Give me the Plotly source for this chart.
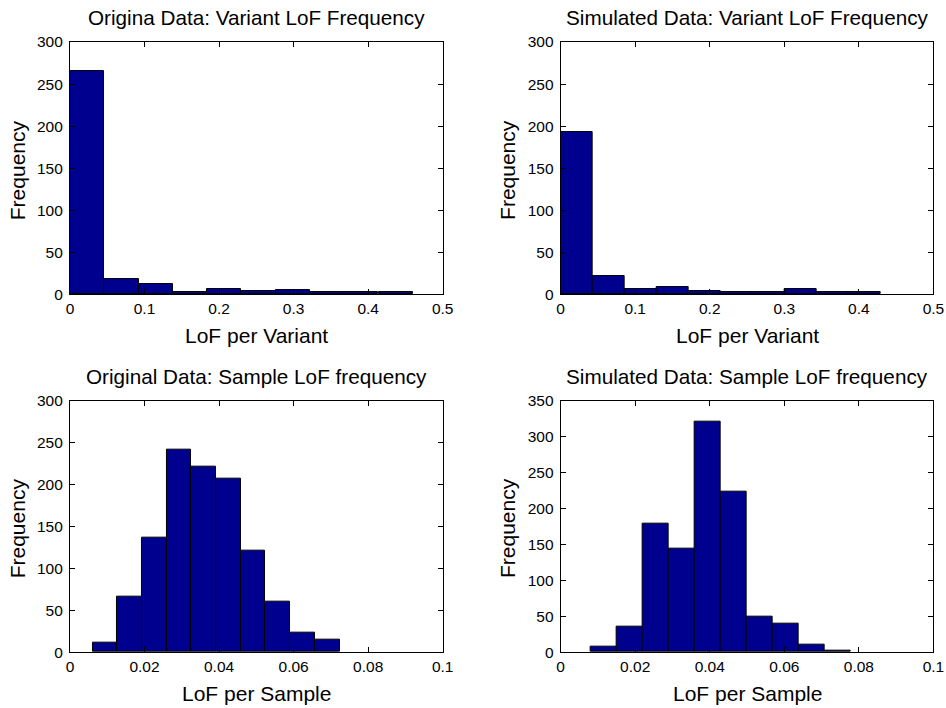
import plotly.graph_objects as go

# ---------------- data ----------------
orig_variant_bins = [0.0230, 0.0690, 0.1150, 0.1609, 0.2069, 0.2529, 0.2989, 0.3449, 0.3908, 0.4368]
orig_variant_counts = [265, 18, 12, 3, 6, 4, 5, 3, 3, 3]

sim_variant_bins = [0.0215, 0.0645, 0.1075, 0.1504, 0.1934, 0.2364, 0.2794, 0.3224, 0.3654, 0.4083]
sim_variant_counts = [193, 22, 7, 9, 4, 3, 3, 6, 3, 3]

orig_sample_bins = [0.00938, 0.01600, 0.02262, 0.02925, 0.03587, 0.04250, 0.04912, 0.05574, 0.06237, 0.06899]
orig_sample_counts = [11, 66, 137, 241, 221, 207, 121, 60, 23, 15]

sim_sample_bins = [0.01144, 0.01842, 0.02539, 0.03237, 0.03934, 0.04632, 0.05329, 0.06027, 0.06724, 0.07422]
sim_sample_counts = [7, 36, 179, 144, 321, 223, 50, 39, 11, 2]

titles = [
    "Origina Data: Variant LoF Frequency",
    "Simulated Data: Variant LoF Frequency",
    "Original Data: Sample LoF frequency",
    "Simulated Data: Sample LoF frequency",
]
xlabels = ["LoF per Variant", "LoF per Variant", "LoF per Sample", "LoF per Sample"]
ylabel = "Frequency"
x_ranges = [[0, 0.5], [0, 0.5], [0, 0.1], [0, 0.1]]
x_dticks = [0.1, 0.1, 0.02, 0.02]
y_ranges = [[0, 300], [0, 300], [0, 300], [0, 350]]

# ---------------- layout ----------------
W, H = 960, 728
# observed page->photo mapping: screen = OFF + SCALE * figure_px
OFF_X, SCALE_X = 4.0, 0.985
OFF_Y, SCALE_Y = 9.0, 0.975
BAR_COLOR = "#00008F"
FONT = "Liberation Sans, Arial, Helvetica, sans-serif"

# wanted axes boxes in photo pixels (left, right, top, bottom)
boxes = [
    (70, 443, 42, 294),
    (561, 934, 42, 294),
    (70, 443, 400, 651),
    (561, 934, 400, 651),
]


def fx(sx):
    return (sx - OFF_X) / SCALE_X


def fy(sy):
    return (sy - OFF_Y) / SCALE_Y


def px(v):
    return v / W


def py(v):
    return (H - v) / H


fig = go.Figure()
series = [
    (orig_variant_bins, orig_variant_counts),
    (sim_variant_bins, sim_variant_counts),
    (orig_sample_bins, orig_sample_counts),
    (sim_sample_bins, sim_sample_counts),
]

annotations = []
for i, ((xb, yc), (sl, sr, st, sb)) in enumerate(zip(series, boxes)):
    l, r, t, b = fx(sl), fx(sr), fy(st), fy(sb)
    n = "" if i == 0 else str(i + 1)
    fig.add_trace(go.Bar(
        x=xb, y=yc,
        xaxis="x" + n, yaxis="y" + n,
        marker=dict(color=BAR_COLOR, line=dict(color="black", width=1)),
        showlegend=False,
    ))
    common = dict(
        showgrid=False, zeroline=False,
        showline=True, linecolor="black", linewidth=1, mirror="ticks",
        ticks="inside", ticklen=5, tickcolor="black", tickwidth=1,
        tickfont=dict(family=FONT, size=15.5, color="black"),
        fixedrange=True,
    )
    fig.layout["xaxis" + n] = dict(
        domain=[px(l), px(r)], range=x_ranges[i], dtick=x_dticks[i], tick0=0,
        anchor="y" + n, **common,
    )
    fig.layout["yaxis" + n] = dict(
        domain=[py(b), py(t)], range=y_ranges[i], dtick=50, tick0=0,
        anchor="x" + n, ticklabelstandoff=3, **common,
    )
    cx = px((l + r) / 2)
    annotations.append(dict(
        text=titles[i], x=cx, y=py(t), xref="paper", yref="paper",
        xanchor="center", yanchor="bottom", yshift=11, showarrow=False,
        font=dict(family=FONT, size=20.7, color="black"),
    ))
    annotations.append(dict(
        text=xlabels[i], x=cx, y=py(b), xref="paper", yref="paper",
        xanchor="center", yanchor="top", yshift=-28, showarrow=False,
        font=dict(family=FONT, size=21, color="black"),
    ))
    annotations.append(dict(
        text=ylabel, x=px(l), y=py((t + b) / 2), xref="paper", yref="paper",
        xanchor="center", yanchor="middle", xshift=-53, yshift=-2,
        textangle=-90, showarrow=False,
        font=dict(family=FONT, size=21, color="black"),
    ))

fig.update_layout(
    width=W, height=H,
    margin=dict(l=0, r=0, t=0, b=0),
    paper_bgcolor="white", plot_bgcolor="white",
    bargap=0,
    annotations=annotations,
    font=dict(family=FONT, color="black"),
)

fig.write_html("out.html", config={"displayModeBar": False})
